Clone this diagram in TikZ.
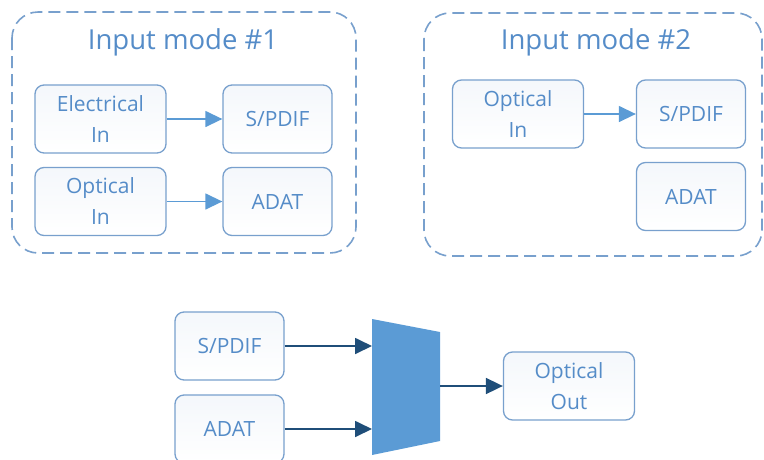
\documentclass[tikz,border=0pt]{standalone}
\usepackage{fontspec}
\setmainfont{Open Sans}
\usetikzlibrary{arrows.meta}
\definecolor{boxline}{RGB}{120,160,205}
\definecolor{boxfill}{RGB}{244,247,252}
\definecolor{textblue}{RGB}{85,140,200}
\definecolor{lightarrow}{RGB}{91,155,213}
\definecolor{darkarrow}{RGB}{31,78,121}
\tikzset{
  blk/.style={draw=boxline, line width=1.3pt, rounded corners=9pt,
    top color=boxfill!80!boxline!30, bottom color=white,
    text=textblue, minimum height=68pt, align=center,
    font=\fontsize{21}{31}\selectfont},
  widebox/.style={blk, minimum width=131pt},
  narrowbox/.style={blk, minimum width=109pt},
  frame/.style={draw=boxline, line width=1.6pt, dash pattern=on 12pt off 6pt, rounded corners=26pt},
  title/.style={text=textblue, font=\fontsize{27.5}{32}\selectfont},
  lightflow/.style={draw=lightarrow, line width=1.4pt, -{Triangle[length=17pt,width=16pt]}},
  darkflow/.style={draw=darkarrow, line width=1.8pt, -{Triangle[length=17pt,width=16pt]}}
}
\begin{document}
\begin{tikzpicture}[x=1pt,y=-1pt]
\useasboundingbox (0,0) rectangle (764,459);
% input mode 1
\draw[frame] (12,12) rectangle (356,253);
\node[title] (mode1) at (183,42) {Input mode \#1};
\node[widebox] (elec1) at (100.5,119) {Electrical\\In};
\node[narrowbox] (spdif1) at (277.5,119) {S/PDIF};
\node[widebox] (opt1) at (100.5,201.5) {Optical\\In};
\node[narrowbox] (adat1) at (277.5,201.5) {ADAT};
\draw[lightflow] (elec1) -- (spdif1);
\draw[lightflow] (opt1) -- (adat1);

% input mode 2
\draw[frame] (424,13) rectangle (762,256);
\node[title] (mode2) at (596,42) {Input mode \#2};
\node[widebox] (opt2) at (518,114) {Optical\\In};
\node[narrowbox] (spdif2) at (691,114) {S/PDIF};
\node[narrowbox] (adat2) at (691,196.5) {ADAT};
\draw[lightflow] (opt2) -- (spdif2);

% output mux
\node[narrowbox] (spdif3) at (229.5,346) {S/PDIF};
\node[narrowbox] (adat3) at (229.5,429) {ADAT};
\fill[lightarrow] (372,319) -- (440,332) -- (440,441) -- (372,455) -- cycle;
\coordinate (muxin) at (372,386);
\coordinate (muxout) at (440,386);
\node[widebox] (optout) at (569,386) {Optical\\Out};
\draw[darkflow] (spdif3.east) -- (spdif3.east -| muxin);
\draw[darkflow] (adat3.east) -- (adat3.east -| muxin);
\draw[darkflow] (muxout) -- (optout);
\end{tikzpicture}
\end{document}
